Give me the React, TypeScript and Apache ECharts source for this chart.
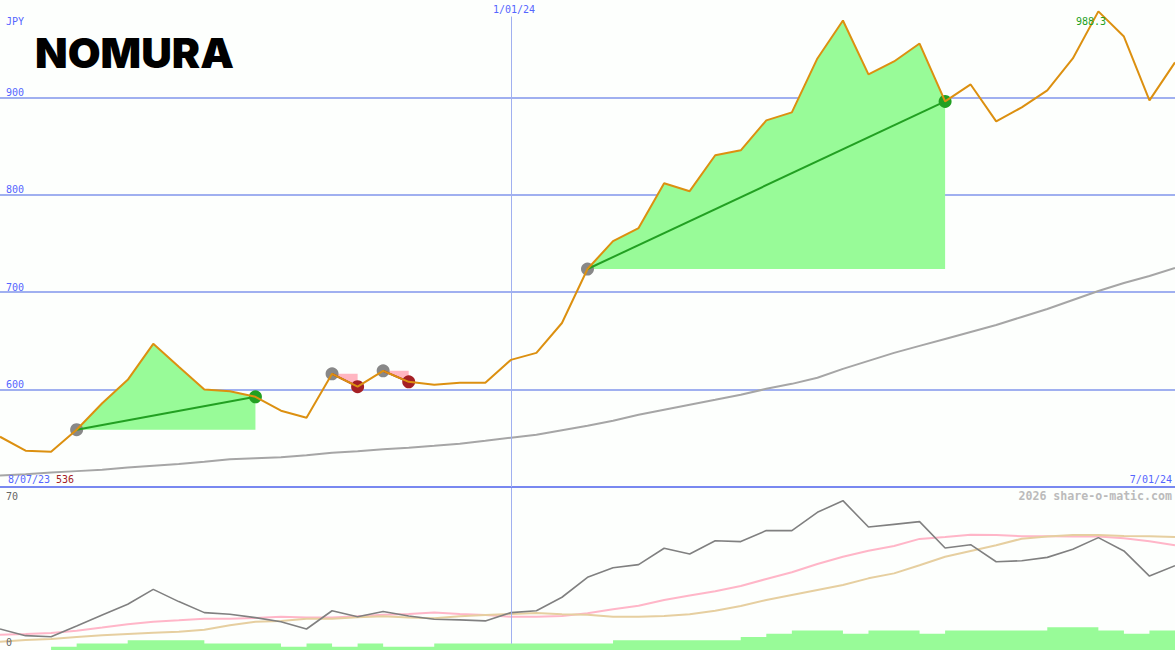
import React, { useRef, useEffect } from 'react';
import * as echarts from 'echarts';

// Weekly closes, JPY
const closes = [
  551.6, 537.3, 536.3, 558.8, 586, 610, 647, 623.4, 600, 598.3, 592.6, 578.3, 571.1, 616.2, 603, 619.3,
  608, 605, 607, 607, 630.5, 637.7, 668.4, 723.8, 752.5, 765.8, 811.9, 803.7, 840.6, 845.7, 876.4, 884.6,
  940, 978.9, 923.6, 936.9, 955.3, 895.9, 913.3, 875.4, 889.8, 907.2, 940, 988.3, 962.5, 897, 935.9,
];
const longAverage = [
  511.7, 513.2, 514.8, 516.3, 517.8, 519.9, 521.9, 523.5, 526, 528.6, 529.6, 530.6, 532.7, 535.2, 536.8, 538.8,
  540.4, 542.4, 544.5, 547.5, 550.6, 553.7, 558.3, 562.9, 568, 574.2, 579.3, 584.4, 589.5, 594.7, 600.8, 605.9,
  612.1, 621.3, 629.5, 637.7, 644.9, 652, 659.2, 666.4, 674.6, 682.8, 692, 701.2, 709.4, 716.6, 724.8,
];
// Lower panel
const oscillator = [
  7.1, 3.9, 3.4, 8.6, 13.9, 19, 26.2, 20.3, 15, 14.2, 12.6, 10.6, 7.1, 15.9, 13, 15.5,
  13.4, 11.8, 11.5, 11, 15, 15.9, 22.4, 32, 36.6, 38.1, 46, 43.2, 49.6, 49.2, 54.5, 54.5,
  63.3, 68.9, 56.2, 57.5, 58.8, 46.1, 47.7, 39.5, 40, 41.6, 45.5, 51.1, 44.7, 32.6, 37.6,
];
const fastSignal = [
  4.4, 4.7, 5.2, 6.3, 7.8, 9.4, 10.6, 11.3, 12.1, 12.1, 12.4, 13, 12.6, 12.6, 13.2, 14,
  14.3, 15, 14.3, 13.9, 13, 13, 13.4, 14.7, 16.6, 18.3, 21.1, 23.2, 25.3, 27.8, 31.2, 34.4,
  38.4, 41.9, 44.8, 47.1, 50.5, 51.4, 52.5, 52.4, 51.8, 51.8, 51.6, 51.6, 50.8, 49.4, 47.4,
];
const slowSignal = [
  1, 1.8, 2.3, 3.3, 4.1, 4.7, 5.3, 5.8, 6.8, 8.9, 10.6, 11, 12.1, 12.1, 12.8, 13.2,
  12.6, 12.3, 13.2, 13.9, 14.3, 14.8, 14.2, 14, 13, 13, 13.4, 14.2, 15.9, 18.2, 21.1, 23.5,
  25.9, 28.3, 31.5, 33.9, 37.8, 41.9, 44.7, 47.4, 50.6, 51.6, 52.4, 52.4, 51.9, 51.8, 51.4,
];
const volumeLevels = [
  0, 0, 1, 2, 2, 3, 3, 3, 2, 2, 2, 1, 2, 1, 2, 1,
  1, 2, 2, 2, 2, 2, 2, 2, 3, 3, 3, 3, 3, 4, 5, 6,
  6, 5, 6, 6, 5, 6, 6, 6, 6, 7, 7, 6, 5, 6, 6,
];

// Trades as week indexes into closes
const tradeEntries = [3, 13, 15, 23];
const tradeExits = [10, 14, 16, 37];

const monthLineWeek = 20;

const GRID_BLUE = '#A0B0F0';
const BASE_BLUE = '#7888F0';
const LABEL_BLUE = '#5566FF';
const PALE_GREEN = '#98FB98';
const PINK = '#FFB6C1';
const DARK_GREEN = '#22A022';
const DARK_RED = '#A52025';
const MONO = '"DejaVu Sans Mono", monospace';

const weekly = (values: number[]) => values.map((v, i) => [i, v]);

const App: React.FC = () => {
  const chartRef = useRef<HTMLDivElement>(null);

  useEffect(() => {
    if (!chartRef.current) return;
    const chart = echarts.init(chartRef.current, undefined, { renderer: 'svg' });

    const priced = weekly(closes);

    // Shaded gain/loss between the entry level and the close
    const tradeAreas = tradeEntries.map((entry, t) => {
      const exit = tradeExits[t];
      const won = closes[exit] > closes[entry];
      return {
        type: 'line',
        z: 1,
        data: priced.slice(entry, exit + 1),
        showSymbol: false,
        silent: true,
        lineStyle: { width: 0 },
        areaStyle: { color: won ? PALE_GREEN : PINK, opacity: 1, origin: closes[entry] },
      };
    });

    const tradeLines = tradeEntries.map((entry, t) => ({
      type: 'line',
      z: 4,
      data: [priced[entry], priced[tradeExits[t]]],
      showSymbol: false,
      silent: true,
      lineStyle: { color: closes[tradeExits[t]] > closes[entry] ? DARK_GREEN : DARK_RED, width: 2 },
    }));

    const dots = (points: number[][], color: string) => ({
      type: 'scatter',
      z: 3,
      data: points,
      symbolSize: 13,
      silent: true,
      itemStyle: { color, opacity: 1 },
    });

    const wins = tradeExits.filter((exit, t) => closes[exit] > closes[tradeEntries[t]]).map((exit) => priced[exit]);
    const losses = tradeExits.filter((exit, t) => closes[exit] <= closes[tradeEntries[t]]).map((exit) => priced[exit]);

    const lower = (values: number[], color: string, width = 2) => ({
      type: 'line',
      xAxisIndex: 1,
      yAxisIndex: 1,
      z: 3,
      data: weekly(values),
      showSymbol: false,
      silent: true,
      lineStyle: { color, width },
    });

    const monthLine = (from: number, to: number) => ({
      silent: true,
      symbol: 'none',
      label: { show: false },
      lineStyle: { color: GRID_BLUE, width: 1, type: 'solid' },
      data: [[{ coord: [monthLineWeek, from] }, { coord: [monthLineWeek, to] }]],
    });

    const label = (text: string, x: number, y: number, fill: string, align = 'left', extra = {}) => ({
      type: 'text',
      x,
      y,
      z: 20,
      silent: true,
      style: { text, fill, font: `10px ${MONO}`, textAlign: align, textVerticalAlign: 'middle', ...extra },
    });

    const option = {
      animation: false,
      backgroundColor: '#FDFFFD',
      grid: [
        { left: 0, width: 1175, top: -1, height: 488 },
        { left: 0, width: 1175, top: 488, height: 162 },
      ],
      xAxis: [
        { type: 'value', gridIndex: 0, min: 0, max: 46, show: false },
        { type: 'value', gridIndex: 1, min: 0, max: 46, show: false },
      ],
      yAxis: [
        {
          type: 'value',
          gridIndex: 0,
          min: 500,
          max: 1000,
          interval: 100,
          axisLine: { show: false },
          axisTick: { show: false },
          axisLabel: {
            inside: true,
            margin: 6,
            verticalAlign: 'bottom',
            color: LABEL_BLUE,
            fontFamily: MONO,
            fontSize: 10,
            showMinLabel: false,
            showMaxLabel: false,
          },
          splitLine: {
            showMaxLine: false,
            lineStyle: { color: [BASE_BLUE, GRID_BLUE, GRID_BLUE, GRID_BLUE, GRID_BLUE], width: 2 },
          },
        },
        { type: 'value', gridIndex: 1, min: -3, max: 75, show: false },
        { type: 'value', gridIndex: 1, min: 0, max: 50, show: false },
      ],
      series: [
        {
          type: 'line',
          xAxisIndex: 1,
          yAxisIndex: 2,
          z: 1,
          step: 'end',
          data: weekly(volumeLevels),
          showSymbol: false,
          silent: true,
          lineStyle: { width: 0 },
          areaStyle: { color: PALE_GREEN, opacity: 1 },
        },
        { ...lower(fastSignal, '#FFB6C8'), markLine: monthLine(0, 75) },
        lower(slowSignal, '#E6CFA0'),
        lower(oscillator, '#808080', 1.6),
        ...tradeAreas,
        dots(tradeEntries.map((i) => priced[i]), '#888888'),
        dots(wins, DARK_GREEN),
        dots(losses, DARK_RED),
        ...tradeLines,
        {
          type: 'line',
          z: 4,
          data: weekly(longAverage),
          showSymbol: false,
          silent: true,
          lineStyle: { color: '#A6A6A6', width: 2 },
          markLine: monthLine(500, 983),
        },
        {
          type: 'line',
          z: 5,
          data: priced,
          showSymbol: false,
          silent: true,
          lineStyle: { color: '#DC9010', width: 2 },
        },
      ],
      graphic: [
        label('JPY', 6, 21, LABEL_BLUE),
        label('1/01/24', 514, 9, LABEL_BLUE, 'center'),
        label('8/07/23', 8, 479, LABEL_BLUE),
        label('536', 56, 479, DARK_RED),
        label('7/01/24', 1172, 479, LABEL_BLUE, 'right'),
        label('988.3', 1076, 21, DARK_GREEN),
        label('70', 6, 496, '#666666'),
        label('0', 6, 642, '#666666'),
        label('2026 share-o-matic.com', 1172, 496, '#BBBBBB', 'right', { font: `bold 11.6px ${MONO}` }),
        {
          type: 'text',
          x: 35,
          y: 53.5,
          scaleX: 0.965,
          scaleY: 0.93,
          silent: true,
          z: 20,
          style: {
            text: 'NOMURA',
            fill: '#000000',
            font: '900 44px Inter, "Liberation Sans", sans-serif',
            textVerticalAlign: 'middle',
          },
        },
      ],
    };

    chart.setOption(option as echarts.EChartsOption);

    return () => {
      chart.dispose();
    };
  }, []);

  return <div ref={chartRef} style={{ position: 'absolute', left: 0, top: 0, width: 1175, height: 650 }} />;
};

export default App;
